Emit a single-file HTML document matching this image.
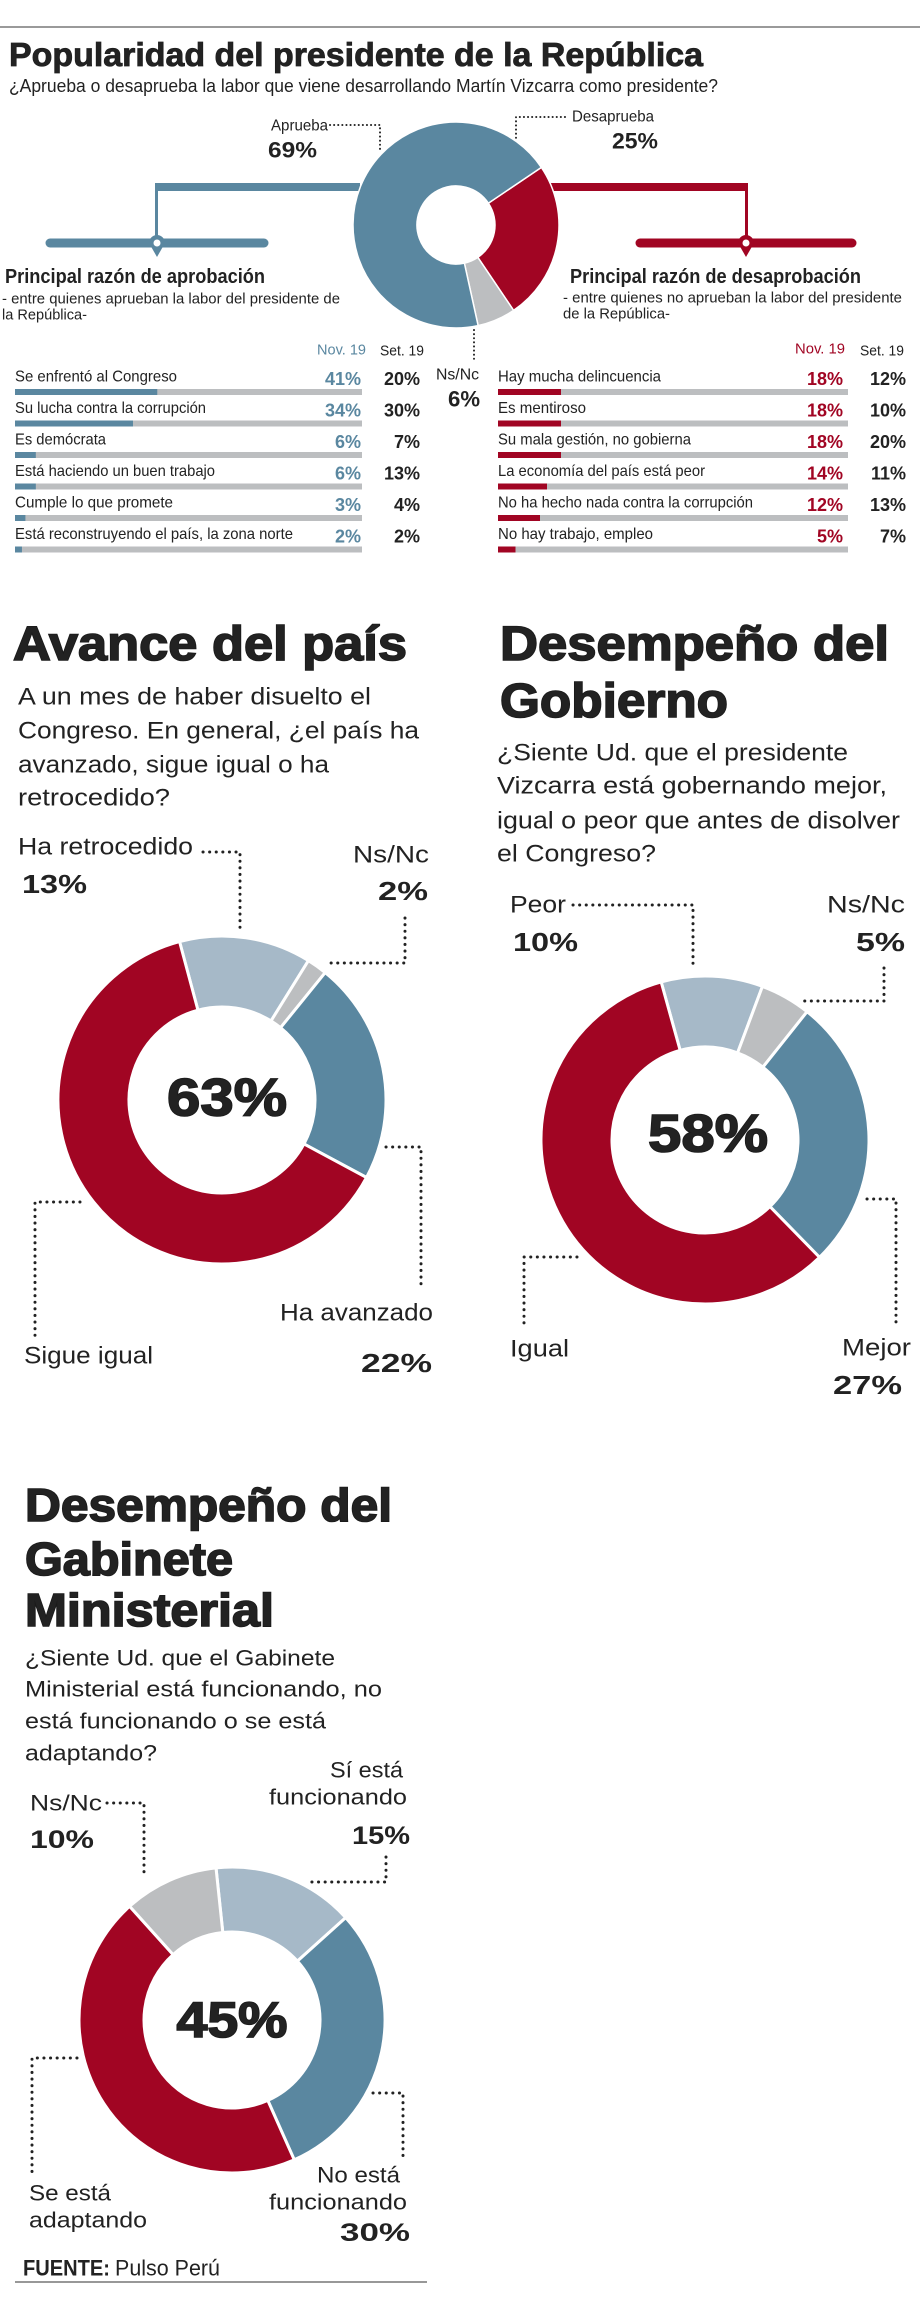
<!DOCTYPE html>
<html><head><meta charset="utf-8">
<style>
html,body{margin:0;padding:0;background:#fff;}
svg{display:block;}
text{font-family:"Liberation Sans",sans-serif;fill:#222;}
.heavy{stroke:#1a1a1a;stroke-width:1.6px;paint-order:stroke;}
.heavy2{stroke:#1a1a1a;stroke-width:0.8px;paint-order:stroke;}
</style></head>
<body>
<svg id="root" width="920" height="2303" viewBox="0 0 920 2303" xmlns="http://www.w3.org/2000/svg">
<rect width="920" height="2303" fill="#fff"/>
<line x1="0" y1="27" x2="920" y2="27" stroke="#9a9a9a" stroke-width="2"/>
<text class="heavy2" x="9" y="66" font-size="33" font-weight="bold" textLength="694" lengthAdjust="spacingAndGlyphs" fill="#1a1a1a">Popularidad del presidente de la República</text>
<text x="9" y="92" font-size="18" textLength="709" lengthAdjust="spacingAndGlyphs">¿Aprueba o desaprueba la labor que viene desarrollando Martín Vizcarra como presidente?</text>

<text x="271" y="126" font-size="16" dominant-baseline="central" textLength="57" lengthAdjust="spacingAndGlyphs">Aprueba</text>
<text x="268" y="150" font-size="22" font-weight="bold" dominant-baseline="central" textLength="49" lengthAdjust="spacingAndGlyphs">69%</text>
<text x="572" y="117" font-size="16" dominant-baseline="central" textLength="82" lengthAdjust="spacingAndGlyphs">Desaprueba</text>
<text x="612" y="141" font-size="22" font-weight="bold" dominant-baseline="central" textLength="46" lengthAdjust="spacingAndGlyphs">25%</text>
<text x="436" y="375" font-size="16" dominant-baseline="central" textLength="43" lengthAdjust="spacingAndGlyphs">Ns/Nc</text>
<text x="448" y="399" font-size="22" font-weight="bold" dominant-baseline="central" textLength="32" lengthAdjust="spacingAndGlyphs">6%</text>

<g>
<rect x="155" y="183" width="205" height="8" fill="#5a87a0"/>
<rect x="155" y="183" width="3" height="60" fill="#5a87a0"/>
<line x1="50" y1="243" x2="264" y2="243" stroke="#5a87a0" stroke-width="9" stroke-linecap="round"/>
<path d="M149,243 A8,8 0 1 1 165,243 L157,257 Z" fill="#5a87a0"/>
<circle cx="157" cy="243" r="3.5" fill="#fff"/>
</g>
<g>
<rect x="548" y="183" width="200" height="8" fill="#a10523"/>
<rect x="745" y="183" width="3" height="60" fill="#a10523"/>
<line x1="640" y1="243" x2="852" y2="243" stroke="#a10523" stroke-width="9" stroke-linecap="round"/>
<path d="M738,243 A8,8 0 1 1 754,243 L746,257 Z" fill="#a10523"/>
<circle cx="746" cy="243" r="3.5" fill="#fff"/>
</g>

<text x="5" y="277" font-size="20" font-weight="bold" dominant-baseline="central" textLength="260" lengthAdjust="spacingAndGlyphs">Principal razón de aprobación</text>
<text x="2" y="299" font-size="15" dominant-baseline="central" textLength="338" lengthAdjust="spacingAndGlyphs">- entre quienes aprueban la labor del presidente de</text>
<text x="2" y="315" font-size="15" dominant-baseline="central" textLength="85" lengthAdjust="spacingAndGlyphs">la República-</text>
<text x="570" y="277" font-size="20" font-weight="bold" dominant-baseline="central" textLength="291" lengthAdjust="spacingAndGlyphs">Principal razón de desaprobación</text>
<text x="563" y="298" font-size="15" dominant-baseline="central" textLength="339" lengthAdjust="spacingAndGlyphs">- entre quienes no aprueban la labor del presidente</text>
<text x="563" y="314" font-size="15" dominant-baseline="central" textLength="107" lengthAdjust="spacingAndGlyphs">de la República-</text>

<text x="317" y="350" font-size="15" dominant-baseline="central" textLength="49" lengthAdjust="spacingAndGlyphs" style="fill:#5a87a0">Nov. 19</text>
<text x="380" y="351" font-size="15" dominant-baseline="central" textLength="44" lengthAdjust="spacingAndGlyphs">Set. 19</text>
<text x="795" y="349" font-size="15" dominant-baseline="central" textLength="50" lengthAdjust="spacingAndGlyphs" style="fill:#a10523">Nov. 19</text>
<text x="860" y="351" font-size="15" dominant-baseline="central" textLength="44" lengthAdjust="spacingAndGlyphs">Set. 19</text>

<g id="top-donut"></g>
<g id="tables"></g>

<text class="heavy" x="13" y="660" font-size="48" font-weight="bold" textLength="394" lengthAdjust="spacingAndGlyphs" fill="#1a1a1a">Avance del país</text>
<g font-size="24">
<text x="18" y="697" dominant-baseline="central" textLength="353" lengthAdjust="spacingAndGlyphs">A un mes de haber disuelto el</text>
<text x="18" y="731" dominant-baseline="central" textLength="401" lengthAdjust="spacingAndGlyphs">Congreso.  En general, ¿el país ha</text>
<text x="18" y="765" dominant-baseline="central" textLength="311" lengthAdjust="spacingAndGlyphs">avanzado, sigue igual o ha</text>
<text x="18" y="798" dominant-baseline="central" textLength="152" lengthAdjust="spacingAndGlyphs">retrocedido?</text>
</g>
<g id="donut1"></g>

<text class="heavy" x="500" y="660" font-size="48" font-weight="bold" textLength="389" lengthAdjust="spacingAndGlyphs" fill="#1a1a1a">Desempeño del</text>
<text class="heavy" x="500" y="717" font-size="48" font-weight="bold" textLength="228" lengthAdjust="spacingAndGlyphs" fill="#1a1a1a">Gobierno</text>
<g font-size="24">
<text x="497" y="753" dominant-baseline="central" textLength="351" lengthAdjust="spacingAndGlyphs">¿Siente Ud. que el presidente</text>
<text x="497" y="786" dominant-baseline="central" textLength="390" lengthAdjust="spacingAndGlyphs">Vizcarra está gobernando mejor,</text>
<text x="497" y="821" dominant-baseline="central" textLength="403" lengthAdjust="spacingAndGlyphs">igual o peor que antes de disolver</text>
<text x="497" y="854" dominant-baseline="central" textLength="159" lengthAdjust="spacingAndGlyphs">el Congreso?</text>
</g>
<g id="donut2"></g>

<text class="heavy" x="25" y="1521" font-size="46" font-weight="bold" textLength="367" lengthAdjust="spacingAndGlyphs" fill="#1a1a1a">Desempeño del</text>
<text class="heavy" x="25" y="1575" font-size="46" font-weight="bold" textLength="208" lengthAdjust="spacingAndGlyphs" fill="#1a1a1a">Gabinete</text>
<text class="heavy" x="25" y="1626" font-size="46" font-weight="bold" textLength="249" lengthAdjust="spacingAndGlyphs" fill="#1a1a1a">Ministerial</text>
<g font-size="22">
<text x="25" y="1658" dominant-baseline="central" textLength="310" lengthAdjust="spacingAndGlyphs">¿Siente Ud. que el Gabinete</text>
<text x="25" y="1689" dominant-baseline="central" textLength="357" lengthAdjust="spacingAndGlyphs">Ministerial está funcionando, no</text>
<text x="25" y="1721" dominant-baseline="central" textLength="301" lengthAdjust="spacingAndGlyphs">está funcionando o se está</text>
<text x="25" y="1753" dominant-baseline="central" textLength="132" lengthAdjust="spacingAndGlyphs">adaptando?</text>
</g>
<g id="donut3"></g>

<text x="23" y="2268" font-size="22" font-weight="bold" dominant-baseline="central" textLength="87" lengthAdjust="spacingAndGlyphs">FUENTE:</text>
<text x="115" y="2268" font-size="22" dominant-baseline="central" textLength="105" lengthAdjust="spacingAndGlyphs">Pulso Perú</text>
<line x1="15" y1="2282" x2="427" y2="2282" stroke="#777" stroke-width="1.5"/>

<g id="leaders"></g>
<g id="labels"></g>
</svg>
<script>
const topCategories = ["Desaprueba", "Ns/Nc", "Aprueba"];
const topValues = [25, 6, 69];

const approvalReasons = ["Se enfrentó al Congreso","Su lucha contra la corrupción","Es demócrata","Está haciendo un buen trabajo","Cumple lo que promete","Está reconstruyendo el país, la zona norte"];
const approvalNov = [41, 34, 6, 6, 3, 2];
const approvalSet = [20, 30, 7, 13, 4, 2];
const disapprovalReasons = ["Hay mucha delincuencia","Es mentiroso","Su mala gestión, no gobierna","La economía del país está peor","No ha hecho nada contra la corrupción","No hay trabajo, empleo"];
const disapprovalNov = [18, 18, 18, 14, 12, 5];
const disapprovalSet = [12, 10, 20, 11, 13, 7];

const avanceCategories = ["Ha retrocedido", "Ns/Nc", "Ha avanzado", "Sigue igual"];
const avanceValues = [13, 2, 22, 63];
const gobiernoCategories = ["Peor", "Ns/Nc", "Mejor", "Igual"];
const gobiernoValues = [10, 5, 27, 58];
const gabineteCategories = ["Sí está funcionando", "No está funcionando", "Se está adaptando", "Ns/Nc"];
const gabineteValues = [15, 30, 45, 10];

const approvalLabelWidths = [162, 191, 91, 200, 158, 278];
const disapprovalLabelWidths = [163, 88, 193, 207, 255, 155];

const NS = "http://www.w3.org/2000/svg";
const BLUE = "#5a87a0", RED = "#a10523", LIGHT = "#a6b9c8", GRAY = "#bcbec0";

function mk(tag, attrs, parent) {
  const e = document.createElementNS(NS, tag);
  for (const k in attrs) e.setAttribute(k, attrs[k]);
  parent.appendChild(e);
  return e;
}
function pt(cx, cy, r, deg) {
  const a = (deg - 90) * Math.PI / 180;
  return [cx + r * Math.cos(a), cy + r * Math.sin(a)];
}
function drawDonut(g, cx, cy, ro, ri, start, values, colors, names, gap) {
  const total = values.reduce((a, b) => a + b, 0);
  let ang = start;
  values.forEach((v, i) => {
    const sweep = v / total * 360;
    const a0 = ang, a1 = ang + sweep;
    const large = sweep > 180 ? 1 : 0;
    const p0 = pt(cx, cy, ro, a0), p1 = pt(cx, cy, ro, a1);
    const q1 = pt(cx, cy, ri, a1), q0 = pt(cx, cy, ri, a0);
    const d = `M${p0[0]},${p0[1]} A${ro},${ro} 0 ${large} 1 ${p1[0]},${p1[1]} L${q1[0]},${q1[1]} A${ri},${ri} 0 ${large} 0 ${q0[0]},${q0[1]} Z`;
    const p = mk("path", {d: d, fill: colors[i], stroke: "#fff", "stroke-width": gap}, g);
    
    
    ang = a1;
  });
}

drawDonut(document.getElementById("top-donut"), 456, 225, 103, 39, 56, topValues, [RED, GRAY, BLUE], topCategories, 1.5);

const tables = document.getElementById("tables");
const rowY0 = 377, rowStep = 31.5;
function drawTable(labels, nov, set, widths, x0, x1, novRight, setRight, color, prefix) {
  labels.forEach((lab, i) => {
    const y = rowY0 + i * rowStep;
    const t = mk("text", {x: x0, y: y, "font-size": 16, "dominant-baseline": "central", textLength: widths[i], lengthAdjust: "spacingAndGlyphs"}, tables);
    t.textContent = lab;
    
    
    const bg = mk("rect", {x: x0, y: y + 12, width: x1 - x0, height: 6, fill: GRAY}, tables);
    
    
    const fg = mk("rect", {x: x0, y: y + 12, width: (x1 - x0) * nov[i] / 100, height: 6, fill: color}, tables);
    
    
    const nv = mk("text", {x: novRight, y: y + 2, "font-size": 18, "font-weight": "bold", "text-anchor": "end", "dominant-baseline": "central", style: "fill:" + color}, tables);
    nv.textContent = nov[i] + "%";
    
    
    const sv = mk("text", {x: setRight, y: y + 2, "font-size": 18, "font-weight": "bold", "text-anchor": "end", "dominant-baseline": "central"}, tables);
    sv.textContent = set[i] + "%";
    
    
  });
}
drawTable(approvalReasons, approvalNov, approvalSet, approvalLabelWidths, 15, 362, 361, 420, BLUE, "approval");
drawTable(disapprovalReasons, disapprovalNov, disapprovalSet, disapprovalLabelWidths, 498, 848, 843, 906, RED, "disapproval");

drawDonut(document.getElementById("donut1"), 222, 1100, 164, 93, -15, avanceValues, [LIGHT, GRAY, BLUE, RED], avanceCategories, 3);
drawDonut(document.getElementById("donut2"), 705, 1140, 164, 93, -15.5, gobiernoValues, [LIGHT, GRAY, BLUE, RED], gobiernoCategories, 3);
drawDonut(document.getElementById("donut3"), 232, 2020, 153, 88, -6, gabineteValues, [LIGHT, BLUE, RED, GRAY], gabineteCategories, 3);

const centres = [[227, 1098, avanceValues[3], 53, 120], [708, 1134, gobiernoValues[3], 53, 120], [232, 2020, gabineteValues[2], 50, 111]];
centres.forEach((c, i) => {
  const t = mk("text", {class: "heavy", x: c[0], y: c[1], "font-size": c[3], "font-weight": "bold", "text-anchor": "middle", "dominant-baseline": "central", textLength: c[4], lengthAdjust: "spacingAndGlyphs", fill: "#1a1a1a"}, document.getElementById("labels"));
  t.textContent = c[2] + "%";
  
  
});

const leaders = document.getElementById("leaders");
const leaderPaths = [
  "M330,125 L380,125 L380,152", "M565,117 L516,117 L516,140", "M474,330 L474,361",
  "M203,852 L240,852 L240,930", "M405,918 L405,963 L326,963", "M386,1147 L421,1147 L421,1290", "M80,1202 L35,1202 L35,1337",
  "M573,905 L693,905 L693,966", "M884,968 L884,1001 L803,1001", "M867,1199 L896,1199 L896,1325", "M577,1257 L524,1257 L524,1325",
  "M107,1803 L144,1803 L144,1877", "M386,1857 L386,1882 L307,1882", "M373,2093 L403,2093 L403,2157", "M77,2058 L32,2058 L32,2173"
];
leaderPaths.forEach((d, i) => {
  const p = mk("path", {d: d, fill: "none", stroke: "#222", "stroke-width": (i < 3 ? 2 : 3), "stroke-dasharray": (i < 3 ? "0.1 4" : "0.1 6.5"), "stroke-linecap": "round"}, leaders);
  
  
});

const labelsG = document.getElementById("labels");
const donutLabels = [
  [avanceCategories[0], 18, 847, 24, 0, "start", 175], [avanceValues[0] + "%", 22, 884, 26, 1, "start", 65],
  [avanceCategories[1], 429, 855, 24, 0, "end", 76], [avanceValues[1] + "%", 428, 891, 26, 1, "end", 50],
  [avanceCategories[2], 433, 1313, 24, 0, "end", 153], [avanceValues[2] + "%", 432, 1363, 26, 1, "end", 71],
  [avanceCategories[3], 24, 1356, 24, 0, "start", 129],
  [gobiernoCategories[0], 510, 905, 24, 0, "start", 56], [gobiernoValues[0] + "%", 513, 942, 26, 1, "start", 65],
  [gobiernoCategories[1], 905, 905, 24, 0, "end", 78], [gobiernoValues[1] + "%", 905, 942, 26, 1, "end", 49],
  [gobiernoCategories[2], 911, 1348, 24, 0, "end", 69], [gobiernoValues[2] + "%", 902, 1385, 26, 1, "end", 69],
  [gobiernoCategories[3], 510, 1349, 24, 0, "start", 59],
  [gabineteCategories[3], 30, 1803, 22, 0, "start", 72], [gabineteValues[3] + "%", 30, 1840, 25, 1, "start", 64],
  ["Sí está", 403, 1770, 22, 0, "end", 73], ["funcionando", 407, 1797, 22, 0, "end", 138], [gabineteValues[0] + "%", 410, 1836, 25, 1, "end", 58],
  ["No está", 400, 2175, 22, 0, "end", 83], ["funcionando", 407, 2202, 22, 0, "end", 138], [gabineteValues[1] + "%", 410, 2233, 25, 1, "end", 70],
  ["Se está", 29, 2193, 22, 0, "start", 82], ["adaptando", 29, 2220, 22, 0, "start", 118]
];
donutLabels.forEach((l, i) => {
  const t = mk("text", {x: l[1], y: l[2], "font-size": l[3], "font-weight": l[4] ? "bold" : "normal", "text-anchor": l[5], "dominant-baseline": "central", textLength: l[6], lengthAdjust: "spacingAndGlyphs"}, labelsG);
  t.textContent = l[0];
  
  
});
</script>
</body></html>
